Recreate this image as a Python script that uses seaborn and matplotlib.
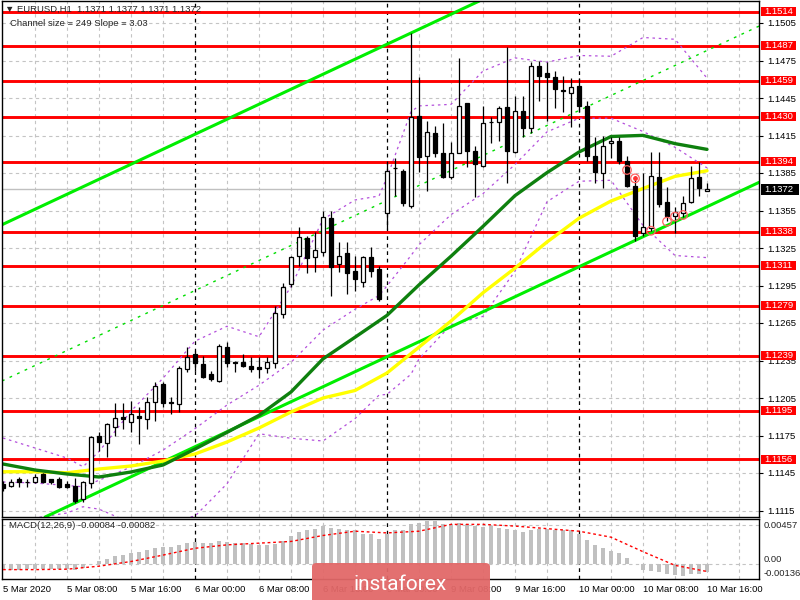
import numpy as np
import pandas as pd
import matplotlib
matplotlib.use("Agg")
import matplotlib.pyplot as plt
import matplotlib.transforms as mtransforms
from matplotlib.patches import Rectangle, FancyBboxPatch
import seaborn as sns

sns.set_theme(style="white")
plt.rcParams['font.family'] = ['Liberation Sans', 'DejaVu Sans']

# ---------------- data (EURUSD H1, 5 Mar 2020 00:00 .. 10 Mar 16:00) ----------------
opens = [1.1136, 1.1135, 1.1140, 1.1138, 1.1138, 1.1144, 1.1140, 1.1140, 1.1136, 1.1135,
         1.1124, 1.1137, 1.1175, 1.1169, 1.1182, 1.1190, 1.1186, 1.1191, 1.1188, 1.1202,
         1.1216, 1.1202, 1.1200, 1.1228, 1.1240, 1.1232, 1.1224, 1.1219, 1.1246, 1.1234,
         1.1234, 1.1231, 1.1230, 1.1229, 1.1233, 1.1272, 1.1296, 1.1319, 1.1333, 1.1318,
         1.1322, 1.1349, 1.1312, 1.1321, 1.1307, 1.1298, 1.1318, 1.1308, 1.1353, 1.1389,
         1.1387, 1.1359, 1.1431, 1.1399, 1.1417, 1.1401, 1.1382, 1.1401, 1.1441, 1.1403,
         1.1391, 1.1426, 1.1426, 1.1438, 1.1402, 1.1435, 1.1421, 1.1471, 1.1465, 1.1462,
         1.1451, 1.1449, 1.1455, 1.1439, 1.1399, 1.1385, 1.1409, 1.1411, 1.1395, 1.1375,
         1.1337, 1.1341, 1.1382, 1.1362, 1.1351, 1.1353, 1.1362, 1.1382, 1.1371]
highs = [1.1139, 1.1140, 1.1142, 1.1140, 1.1144, 1.1145, 1.1140, 1.1142, 1.1139, 1.1141,
         1.1139, 1.1175, 1.1178, 1.1185, 1.1201, 1.1201, 1.1203, 1.1198, 1.1206, 1.1218,
         1.1218, 1.1206, 1.1231, 1.1246, 1.1243, 1.1239, 1.1227, 1.1248, 1.1250, 1.1235,
         1.1240, 1.1238, 1.1238, 1.1238, 1.1279, 1.1297, 1.1319, 1.1342, 1.1335, 1.1338,
         1.1355, 1.1355, 1.1330, 1.1330, 1.1319, 1.1319, 1.1326, 1.1311, 1.1395, 1.1397,
         1.1388, 1.1497, 1.1462, 1.1427, 1.1423, 1.1425, 1.1410, 1.1477, 1.1441, 1.1407,
         1.1439, 1.1430, 1.1439, 1.1486, 1.1447, 1.1447, 1.1474, 1.1475, 1.1474, 1.1467,
         1.1463, 1.1461, 1.1461, 1.1443, 1.1414, 1.1415, 1.1414, 1.1414, 1.1399, 1.1383,
         1.1385, 1.1402, 1.1402, 1.1374, 1.1358, 1.1367, 1.1391, 1.1394, 1.1377]
lows = [1.1131, 1.1134, 1.1134, 1.1134, 1.1137, 1.1137, 1.1136, 1.1133, 1.1133, 1.1121,
        1.1122, 1.1133, 1.1163, 1.1158, 1.1175, 1.1180, 1.1178, 1.1168, 1.1180, 1.1187,
        1.1198, 1.1192, 1.1194, 1.1226, 1.1227, 1.1221, 1.1219, 1.1218, 1.1230, 1.1226,
        1.1230, 1.1226, 1.1221, 1.1225, 1.1229, 1.1269, 1.1294, 1.1311, 1.1305, 1.1306,
        1.1319, 1.1287, 1.1306, 1.1288, 1.1291, 1.1294, 1.1302, 1.1283, 1.1340, 1.1367,
        1.1359, 1.1357, 1.1386, 1.1371, 1.1398, 1.1381, 1.1380, 1.1401, 1.1390, 1.1366,
        1.1390, 1.1409, 1.1411, 1.1377, 1.1401, 1.1414, 1.1417, 1.1443, 1.1427, 1.1437,
        1.1434, 1.1422, 1.1434, 1.1395, 1.1377, 1.1373, 1.1397, 1.1392, 1.1374, 1.1331,
        1.1335, 1.1339, 1.1358, 1.1347, 1.1337, 1.1350, 1.1361, 1.1367, 1.1371]
closes = [1.1133, 1.1138, 1.1138, 1.1138, 1.1142, 1.1138, 1.1138, 1.1134, 1.1134, 1.1123,
          1.1138, 1.1174, 1.1170, 1.1184, 1.1189, 1.1188, 1.1192, 1.1189, 1.1202, 1.1215,
          1.1201, 1.1201, 1.1229, 1.1238, 1.1233, 1.1222, 1.1220, 1.1247, 1.1233, 1.1233,
          1.1231, 1.1228, 1.1228, 1.1234, 1.1273, 1.1294, 1.1318, 1.1334, 1.1317, 1.1323,
          1.1350, 1.1310, 1.1319, 1.1305, 1.1300, 1.1318, 1.1307, 1.1284, 1.1387, 1.1389,
          1.1361, 1.1430, 1.1398, 1.1418, 1.1401, 1.1382, 1.1401, 1.1439, 1.1403, 1.1392,
          1.1425, 1.1426, 1.1437, 1.1403, 1.1435, 1.1421, 1.1471, 1.1463, 1.1462, 1.1452,
          1.1451, 1.1454, 1.1439, 1.1399, 1.1386, 1.1407, 1.1411, 1.1395, 1.1375, 1.1335,
          1.1342, 1.1383, 1.1360, 1.1351, 1.1354, 1.1361, 1.1381, 1.1373, 1.1372]

# moving averages (read every 4th bar): green = MA 30, yellow = MA 50
ma_idx = [0, 4, 8, 12, 16, 20, 24, 28, 32, 36, 40, 44, 48, 52, 56, 60, 64, 68, 72, 76, 80, 84, 88]
ma_green = [1.11522, 1.11474, 1.11442, 1.11418, 1.11458, 1.11514, 1.11642, 1.11775, 1.11911,
            1.12098, 1.12363, 1.12536, 1.12711, 1.12955, 1.13184, 1.13423, 1.13669, 1.13853,
            1.14018, 1.14142, 1.14151, 1.14085, 1.14039]
ma_yellow = [1.11460, 1.11460, 1.11452, 1.11482, 1.11506, 1.11546, 1.11602, 1.11698, 1.11810,
             1.11938, 1.12050, 1.12110, 1.12250, 1.12457, 1.12666, 1.12892, 1.13089, 1.13298,
             1.13488, 1.13626, 1.13726, 1.13823, 1.13868]

# Bollinger bands (20, 2)
bb_idx = [0, 4, 8, 10, 12, 16, 20, 24, 28, 32, 36, 40, 44, 47, 48, 51, 52, 56, 60, 64, 68,
          72, 76, 80, 84, 88]
bb_upper = [1.1173, 1.1165, 1.1157, 1.1150, 1.11622, 1.11945, 1.12208, 1.12505, 1.12624,
            1.12540, 1.12941, 1.13480, 1.13634, 1.13666, 1.13814, 1.14340, 1.14387, 1.14399,
            1.14666, 1.14771, 1.14737, 1.14790, 1.14784, 1.14934, 1.14920, 1.14609]
bb_mid = [1.11378, 1.1137, 1.1135, 1.1134, 1.11392, 1.11498, 1.11633, 1.11805, 1.11994,
          1.12152, 1.12335, 1.12593, 1.12760, 1.12870, 1.12947, 1.13190, 1.13276, 1.13517,
          1.13685, 1.13918, 1.14179, 1.14288, 1.14288, 1.14182, 1.14056, 1.13891]
bb_lower = [1.11026, 1.1109, 1.1113, 1.1118, 1.11161, 1.11050, 1.11057, 1.11105, 1.11364,
            1.11764, 1.11728, 1.11706, 1.11885, 1.12073, 1.12079, 1.12240, 1.12363, 1.12635,
            1.12703, 1.13065, 1.13620, 1.13784, 1.13792, 1.13430, 1.13190, 1.13173]

# linear regression channel
chan_idx = [0, 88]
chan_mid = [1.1219, 1.1483]
chan_half = 0.0125

levels = [1.1514, 1.1487, 1.1459, 1.1430, 1.1394, 1.1338, 1.1311, 1.1279, 1.1239, 1.1195, 1.1156]
price_ticks = [1.1115, 1.1145, 1.1175, 1.1205, 1.1235, 1.1265, 1.1295, 1.1325, 1.1355,
               1.1385, 1.1415, 1.1445, 1.1475, 1.1505]
last_price = 1.1372

# fractal-type markers
mark_idx = [78, 79, 81, 83, 84, 85]
mark_val = [1.13874, 1.13807, 1.13388, 1.13461, 1.13501, 1.13514]

xtick_idx = [0, 8, 16, 24, 32, 40, 48, 56, 64, 72, 80, 88]
xtick_labels = ["5 Mar 2020", "5 Mar 08:00", "5 Mar 16:00", "6 Mar 00:00", "6 Mar 08:00",
                "6 Mar 16:00", "9 Mar 00:00", "9 Mar 08:00", "9 Mar 16:00", "10 Mar 00:00",
                "10 Mar 08:00", "10 Mar 16:00"]
day_breaks = [24, 48, 72]

macd_hist = [-0.0006, -0.0006, -0.0006, -0.00055, -0.0005, -0.0005, -0.0005, -0.0005, -0.0005,
             -0.0006, -0.0004, 0.0001, 0.00039, 0.0007, 0.00098, 0.00117, 0.00137, 0.00145,
             0.00168, 0.00188, 0.00203, 0.00203, 0.00227, 0.00254, 0.00262, 0.00254, 0.00254,
             0.0027, 0.00258, 0.00254, 0.0025, 0.00242, 0.00234, 0.00223, 0.00242, 0.00281,
             0.00332, 0.00383, 0.00402, 0.0041, 0.00449, 0.0043, 0.00418, 0.00399, 0.00399,
             0.00363, 0.00363, 0.00293, 0.0036, 0.00399, 0.00399, 0.00477, 0.00488, 0.00504,
             0.00504, 0.00477, 0.00469, 0.00488, 0.00469, 0.00449, 0.00442, 0.00449, 0.0043,
             0.0041, 0.00402, 0.00379, 0.00402, 0.0041, 0.00418, 0.00402, 0.00402, 0.00402,
             0.00352, 0.00285, 0.00223, 0.00188, 0.00156, 0.00129, 0.00078, 0.00008, -0.00066,
             -0.00078, -0.0009, -0.00106, -0.00125, -0.00137, -0.00106, -0.00106, -0.00084]
macd_sig_idx = ma_idx
macd_signal = [-0.0006, -0.0006, -0.00055, -0.0002, 0.00035, 0.0011, 0.0019, 0.0023, 0.0025,
               0.0027, 0.0034, 0.0039, 0.0037, 0.0039, 0.0047, 0.0047, 0.0045, 0.0042, 0.0039,
               0.0032, 0.0015, -0.0001, -0.00082]

# ---------------- figure ----------------
W, H = 800, 600
FS = 6.8
fig = plt.figure(figsize=(W / 100, H / 100), dpi=100)
fig.patch.set_facecolor("white")


def rect(x0, y0, x1, y1):
    return [x0 / W, 1 - y1 / H, (x1 - x0) / W, (y1 - y0) / H]


ax = fig.add_axes(rect(2, 1, 759, 517))
axm = fig.add_axes(rect(2, 519, 759, 579))

XL = (-0.125, 94.5)
YL = (1.11098, 1.15226)
ML = (-0.0017, 0.00533)
for a in (ax, axm):
    a.set_facecolor("white")
    a.set_xlim(*XL)
    for s in a.spines.values():
        s.set_color("black")
        s.set_linewidth(1.0)
ax.set_ylim(*YL)
axm.set_ylim(*ML)

grid_kw = dict(color="#c4c4c4", lw=0.8, ls=(0, (3, 3)), zorder=0.5)
for i in range(4, 95, 4):
    if i in day_breaks:
        for a in (ax, axm):
            a.axvline(i, color="black", lw=0.9, ls=(0, (3, 3)), zorder=0.6)
    else:
        for a in (ax, axm):
            a.axvline(i, **grid_kw)
for p in price_ticks:
    ax.axhline(p, **grid_kw)
axm.axhline(0.0, **grid_kw)
axm.axhline(0.00457, **grid_kw)

# current price line
ax.axhline(last_price, color="#c0c0c0", lw=1.0, zorder=0.7)

# horizontal levels
for lv in levels:
    ax.axhline(lv, color="#ff0000", lw=2.1, zorder=2)

# regression channel
c_up = [m + chan_half for m in chan_mid]
c_lo = [m - chan_half for m in chan_mid]
ax.axline((chan_idx[0], c_up[0]), (chan_idx[1], c_up[1]), color="#00ee00", lw=2.2, zorder=2.2)
ax.axline((chan_idx[0], c_lo[0]), (chan_idx[1], c_lo[1]), color="#00ee00", lw=2.2, zorder=2.2)
ax.axline((chan_idx[0], chan_mid[0]), (chan_idx[1], chan_mid[1]), color="#00dd00", lw=1.0,
          ls=(0, (2, 4)), zorder=2.2)

# bollinger bands (purple dotted)
for band in (bb_upper, bb_mid, bb_lower):
    ax.plot(bb_idx, band, color="#b450dc", lw=0.9, ls=(0, (2, 3)), zorder=2.1)

# moving averages
ind_df = pd.DataFrame({"idx": ma_idx, "green": ma_green, "yellow": ma_yellow})
sns.lineplot(data=ind_df, x="idx", y="yellow", ax=ax, color="#ffff00", lw=2.4, zorder=2.3)
sns.lineplot(data=ind_df, x="idx", y="green", ax=ax, color="#0e800e", lw=2.4, zorder=2.3)

# candles
idx = np.arange(len(opens))
o = np.array(opens); h = np.array(highs); l = np.array(lows); c = np.array(closes)
ax.vlines(idx, l, h, color="black", lw=0.9, zorder=3)
bull = c >= o
bottoms = np.minimum(o, c)
heights = np.maximum(np.abs(c - o), 0.00002)
ax.bar(idx[bull], heights[bull], bottom=bottoms[bull], width=0.62, color="white",
       edgecolor="black", lw=0.9, zorder=3.2)
ax.bar(idx[~bull], heights[~bull], bottom=bottoms[~bull], width=0.62, color="black",
       edgecolor="black", lw=0.9, zorder=3.2)

# markers
ax.scatter(mark_idx, mark_val, s=38, facecolors="none", edgecolors="#ff6060", linewidths=0.9,
           zorder=3.5)
ax.scatter([mark_idx[1]], [mark_val[1]], s=6, color="#ff3030", zorder=3.6)

# right axis price ticks
ax.yaxis.tick_right()
ax.set_yticks(price_ticks)
ax.set_yticklabels([f"{p:.4f}" for p in price_ticks])
ax.tick_params(axis="y", direction="out", length=3, width=0.8, pad=3, labelsize=FS,
               colors="black", right=True, left=False)
ax.set_xticks([])
ax.set_xlabel(""); ax.set_ylabel("")

# level labels (red boxes) and current price box
btrans = mtransforms.blended_transform_factory(ax.transAxes, ax.transData)
bw = 35 / 757.0
bh = 9 * 0.00008
for lv in levels:
    ax.add_patch(Rectangle((1 + 2 / 757, lv - bh / 2), bw, bh, transform=btrans,
                           facecolor="#ff0000", edgecolor="none", clip_on=False, zorder=5))
    ax.text(1 + 5.5 / 757, lv, f"{lv:.4f}", transform=btrans, color="white", fontsize=FS,
            va="center", ha="left", clip_on=False, zorder=6)
ax.add_patch(Rectangle((1 + 2 / 757, last_price - 11 * 0.00008 / 2), 38 / 757, 11 * 0.00008,
                       transform=btrans, facecolor="black", edgecolor="none", clip_on=False,
                       zorder=5))
ax.text(1 + 5.5 / 757, last_price, f"{last_price:.4f}", transform=btrans, color="white",
        fontsize=FS, va="center", ha="left", clip_on=False, zorder=6)

# MACD
x_m = np.arange(len(macd_hist))
axm.bar(x_m, macd_hist, width=0.5, color="#c0c0c0", edgecolor="none", zorder=2)
axm.plot(macd_sig_idx, macd_signal, color="#ff0000", lw=1.0, ls=(0, (2, 2)), zorder=3)
axm.set_yticks([])
axm.set_xticks(xtick_idx)
axm.set_xticklabels(xtick_labels, fontsize=FS, ha="left")
axm.tick_params(axis="x", direction="out", length=3, width=0.8, pad=1.5, colors="black")
axm.set_xlabel(""); axm.set_ylabel("")
mtrans = mtransforms.blended_transform_factory(axm.transAxes, axm.transData)
axm.text(1 + 5 / 757, 0.00457, "0.00457", transform=mtrans, fontsize=FS, va="center",
         ha="left", clip_on=False)
axm.text(1 + 5 / 757, 0.0006, "0.00", transform=mtrans, fontsize=FS, va="center",
         ha="left", clip_on=False)
axm.text(1 + 5 / 757, -0.00105, "-0.00136", transform=mtrans, fontsize=FS, va="center",
         ha="left", clip_on=False)
axm.text(7 / 757, 0.9, "MACD(12,26,9) -0.00084 -0.00082", transform=axm.transAxes,
         fontsize=FS, va="center", ha="left")

# header
fig.text(5 / W, 1 - 9 / H, "\u25bc EURUSD,H1  1.1371 1.1377 1.1371 1.1372", fontsize=FS,
         va="center", ha="left", zorder=10, family=["Liberation Sans", "DejaVu Sans"])
fig.text(10 / W, 1 - 24 / H, "Channel size = 249 Slope = 3.03", fontsize=FS,
         va="center", ha="left", zorder=10)

# watermark logo
logo = FancyBboxPatch((312 / W, -5 / H), 178 / W, 42 / H,
                      boxstyle="round,pad=0,rounding_size=0.006", transform=fig.transFigure,
                      facecolor="#e26868", edgecolor="none", alpha=0.95, zorder=20)
fig.patches.append(logo)
fig.text(400 / W, 1 - 584 / H, "instaforex", fontsize=15, color="white", ha="center",
         va="center", family=["Roboto", "DejaVu Sans"], zorder=21)

fig.savefig("out.png", dpi=100)
